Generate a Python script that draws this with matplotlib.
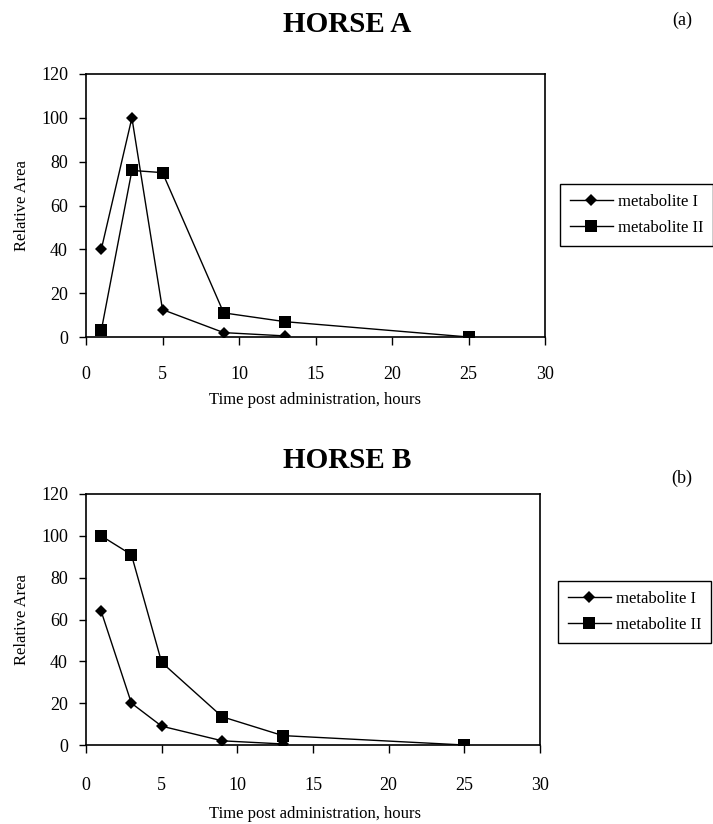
import matplotlib.pyplot as plt

plt.rcParams['font.family'] = ['Liberation Serif', 'DejaVu Serif']

# Horse A
hours_a_1 = [1, 3, 5, 9, 13]
met1_a = [40, 100, 12.5, 2, 0.5]
hours_a_2 = [1, 3, 5, 9, 13, 25]
met2_a = [3, 76, 75, 11, 7, 0]

# Horse B
hours_b_1 = [1, 3, 5, 9, 13]
met1_b = [64, 20, 9, 2, 0.5]
hours_b_2 = [1, 3, 5, 9, 13, 25]
met2_b = [100, 91, 39.5, 13.5, 4.5, 0]

W, H = 713, 824
fig = plt.figure(figsize=(W / 100, H / 100), dpi=100)


def px(x0, y0, x1, y1):
    # pixel box -> figure rect
    return [x0 / W, 1 - y1 / H, (x1 - x0) / W, (y1 - y0) / H]


def panel(rect, x1, y1, x2, y2, title, ty, tag, tagy, xly, tickpad, leg):
    ax = fig.add_axes(rect)
    l1, = ax.plot(x1, y1, color='black', lw=1, marker='D', ms=6.5, mew=0)
    l2, = ax.plot(x2, y2, color='black', lw=1, marker='s', ms=8.5, mew=0)
    ax.set_xlim(0, 30)
    ax.set_ylim(0, 120)
    ax.set_xticks(range(0, 31, 5))
    ax.set_yticks(range(0, 121, 20))
    for s in ax.spines.values():
        s.set_linewidth(1.2)
    ax.tick_params(axis='x', direction='out', length=6, width=1, pad=tickpad, labelsize=13)
    ax.tick_params(axis='y', direction='out', length=5, width=1, pad=8, labelsize=13)
    ax.set_ylabel('Relative Area', fontsize=12, labelpad=8)
    fig.text(315 / W, 1 - xly / H, 'Time post administration, hours', ha='center', va='center', fontsize=12)
    fig.text(347 / W, 1 - ty / H, title, ha='center', va='center', fontsize=21, fontweight='bold')
    fig.text(682 / W, 1 - tagy / H, tag, ha='center', va='center', fontsize=13)
    fig.legend([l1, l2], ['metabolite I', 'metabolite II'], loc='center',
               bbox_to_anchor=leg, bbox_transform=fig.transFigure,
               frameon=True, fancybox=False, edgecolor='black', framealpha=1,
               fontsize=12, handlelength=2.6, borderpad=0.6, labelspacing=0.6,
               handletextpad=0.3)
    ax.figure.legends[-1].get_frame().set_linewidth(1)
    return ax


panel(px(86, 74, 545, 337), hours_a_1, met1_a, hours_a_2, met2_a,
      'HORSE A', 25, '(a)', 20, 400, 15,
      ((562 + 711) / 2 / W, 1 - 215 / H))
panel(px(86, 494, 540, 745), hours_b_1, met1_b, hours_b_2, met2_b,
      'HORSE B', 460, '(b)', 478, 814, 17,
      ((558 + 711) / 2 / W, 1 - 612 / H))

fig.savefig('out.png', dpi=100)
